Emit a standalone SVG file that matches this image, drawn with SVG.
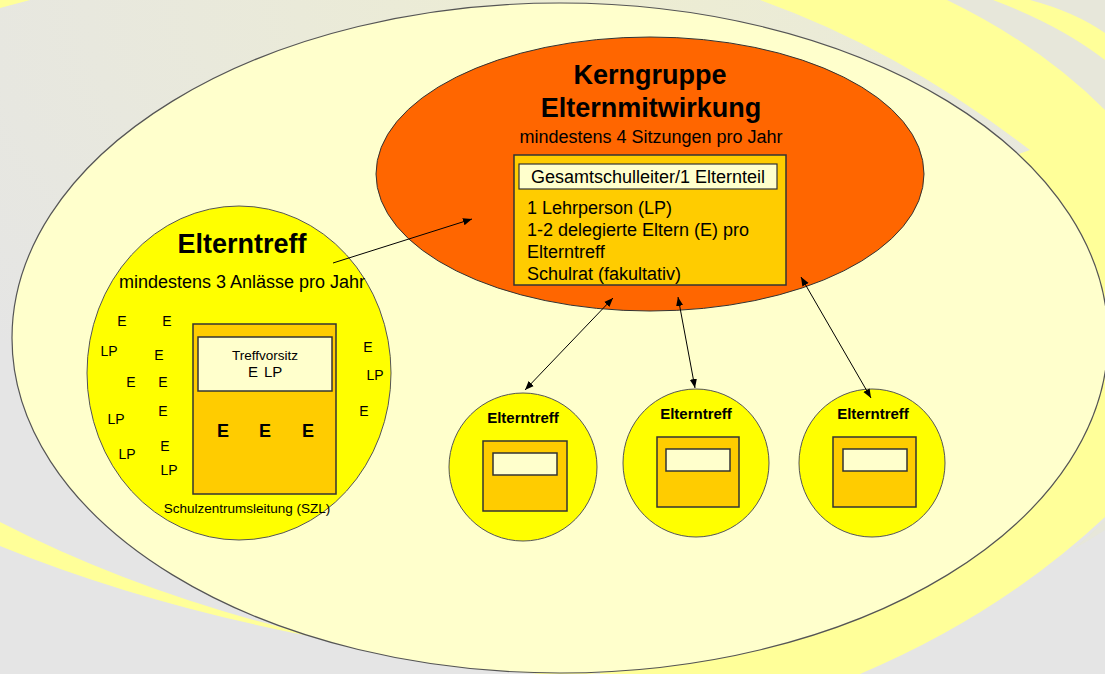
<svg xmlns="http://www.w3.org/2000/svg" width="1105" height="674" viewBox="0 0 1105 674">
<defs>
<radialGradient id="bg" cx="0.55" cy="0" r="0.75">
<stop offset="0" stop-color="#EDEDD2"/>
<stop offset="1" stop-color="#E5E5E5"/>
</radialGradient>
<marker id="ah" viewBox="0 0 10 10" refX="10" refY="5" markerWidth="9" markerHeight="9" markerUnits="userSpaceOnUse" orient="auto-start-reverse">
<path d="M0,1 L10,5 L0,9 Z" fill="#000"/>
</marker>
<style>
text{font-family:"Liberation Sans",Arial,sans-serif;fill:#000}
.b{font-weight:bold}
.c{text-anchor:middle}
.sw{fill:#FFFF99;stroke:none}
.gap{fill:#E7E7DA;stroke:none}
.yc{fill:#FFFF00;stroke:#555;stroke-width:1}
.box{fill:#FFCC00;stroke:#333;stroke-width:1.5}
.wb{fill:#FFFFCC;stroke:#333;stroke-width:1.5}
.t14{font-size:14px}
.con{stroke:#000;stroke-width:1;fill:none}
</style>
</defs>
<rect width="1105" height="674" fill="url(#bg)"/>
<!-- background swooshes -->
<path class="sw" d="M760,0 L1105,0 L1105,517 Q1000,615 860,674 L600,674 L600,300 L1030,150 Q900,50 760,0 Z"/>
<path class="gap" d="M947,0 L993,0 Q1060,25 1105,60 L1105,110 Q1040,45 947,0 Z"/>
<path class="gap" d="M1030,0 L1105,0 L1105,33 Q1075,12 1030,0 Z"/>
<path class="gap" d="M1105,520 L1105,530 Q1090,540 1072,550 Q1090,535 1105,520 Z"/>
<path class="sw" d="M0,522 Q230,640 540,674 L600,674 Q250,648 0,546 Z"/>
<path class="sw" d="M0,0 L30,0 Q15,4 0,8 Z"/>
<!-- main ellipse -->
<ellipse cx="560" cy="338" rx="548" ry="335" fill="#FFFFCC" stroke="#555" stroke-width="1.2"/>

<g id="kerngruppe">
<ellipse cx="650" cy="174" rx="274" ry="137" fill="#FF6600" stroke="#333" stroke-width="1"/>
<text class="b c" x="650" y="84" font-size="27">Kerngruppe</text>
<text class="b c" x="651" y="117" font-size="27">Elternmitwirkung</text>
<text class="c" x="651" y="143" font-size="18">mindestens 4 Sitzungen pro Jahr</text>
<rect class="box" x="514" y="155" width="272" height="130"/>
<rect x="519" y="164" width="258" height="25" fill="#FFFFCC" stroke="#333" stroke-width="1.2"/>
<text class="c" x="648" y="183" font-size="18">Gesamtschulleiter/1 Elternteil</text>
<text x="527" y="214" font-size="18">1 Lehrperson (LP)</text>
<text x="527" y="236" font-size="18">1-2 delegierte Eltern (E) pro</text>
<text x="527" y="258" font-size="18">Elterntreff</text>
<text x="527" y="280" font-size="18">Schulrat (fakultativ)</text>
</g>

<g id="elterntreff-main">
<ellipse class="yc" cx="239" cy="373" rx="152" ry="167"/>
<text class="b c" x="242" y="253" font-size="27">Elterntreff</text>
<text class="c" x="242" y="288" font-size="18">mindestens 3 Anlässe pro Jahr</text>
<rect class="box" x="193" y="324" width="143" height="170"/>
<rect class="wb" x="198" y="337" width="134" height="54"/>
<text class="c" x="265" y="360" font-size="13.5">Treffvorsitz</text>
<text x="248" y="377" font-size="15">E</text>
<text x="264" y="377" font-size="15">LP</text>
<text class="b c" x="223" y="437" font-size="18">E</text>
<text class="b c" x="265" y="437" font-size="18">E</text>
<text class="b c" x="308" y="437" font-size="18">E</text>
<text class="c" x="247" y="513" font-size="13.5">Schulzentrumsleitung (SZL)</text>
<g class="t14">
<text class="c" x="122" y="326">E</text>
<text class="c" x="167" y="326">E</text>
<text class="c" x="109" y="356">LP</text>
<text class="c" x="159" y="360">E</text>
<text class="c" x="131" y="387">E</text>
<text class="c" x="163" y="387">E</text>
<text class="c" x="163" y="416">E</text>
<text class="c" x="116" y="424">LP</text>
<text class="c" x="127" y="459">LP</text>
<text class="c" x="165" y="451">E</text>
<text class="c" x="169" y="475">LP</text>
<text class="c" x="368" y="352">E</text>
<text class="c" x="375" y="380">LP</text>
<text class="c" x="364" y="416">E</text>
</g>
</g>

<g id="elterntreff-1">
<ellipse class="yc" cx="523" cy="467" rx="74" ry="74"/>
<text class="b c" x="523" y="423" font-size="15">Elterntreff</text>
<rect class="box" x="483" y="441" width="84" height="70"/>
<rect class="wb" x="493" y="453" width="64" height="22"/>
</g>

<g id="elterntreff-2">
<ellipse class="yc" cx="696" cy="463" rx="73" ry="74"/>
<text class="b c" x="696" y="419" font-size="15">Elterntreff</text>
<rect class="box" x="657" y="437" width="82" height="70"/>
<rect class="wb" x="666" y="449" width="64" height="22"/>
</g>

<g id="elterntreff-3">
<ellipse class="yc" cx="872" cy="463" rx="73" ry="74"/>
<text class="b c" x="873" y="419" font-size="15">Elterntreff</text>
<rect class="box" x="833" y="437" width="83" height="70"/>
<rect class="wb" x="843" y="449" width="64" height="22"/>
</g>

<g id="connectors">
<line class="con" x1="333" y1="263" x2="472" y2="219" marker-end="url(#ah)"/>
<line class="con" x1="613" y1="298" x2="525" y2="390" marker-start="url(#ah)" marker-end="url(#ah)"/>
<line class="con" x1="678" y1="297" x2="695" y2="388" marker-start="url(#ah)" marker-end="url(#ah)"/>
<line class="con" x1="801" y1="277" x2="871" y2="398" marker-start="url(#ah)" marker-end="url(#ah)"/>
</g>
</svg>
